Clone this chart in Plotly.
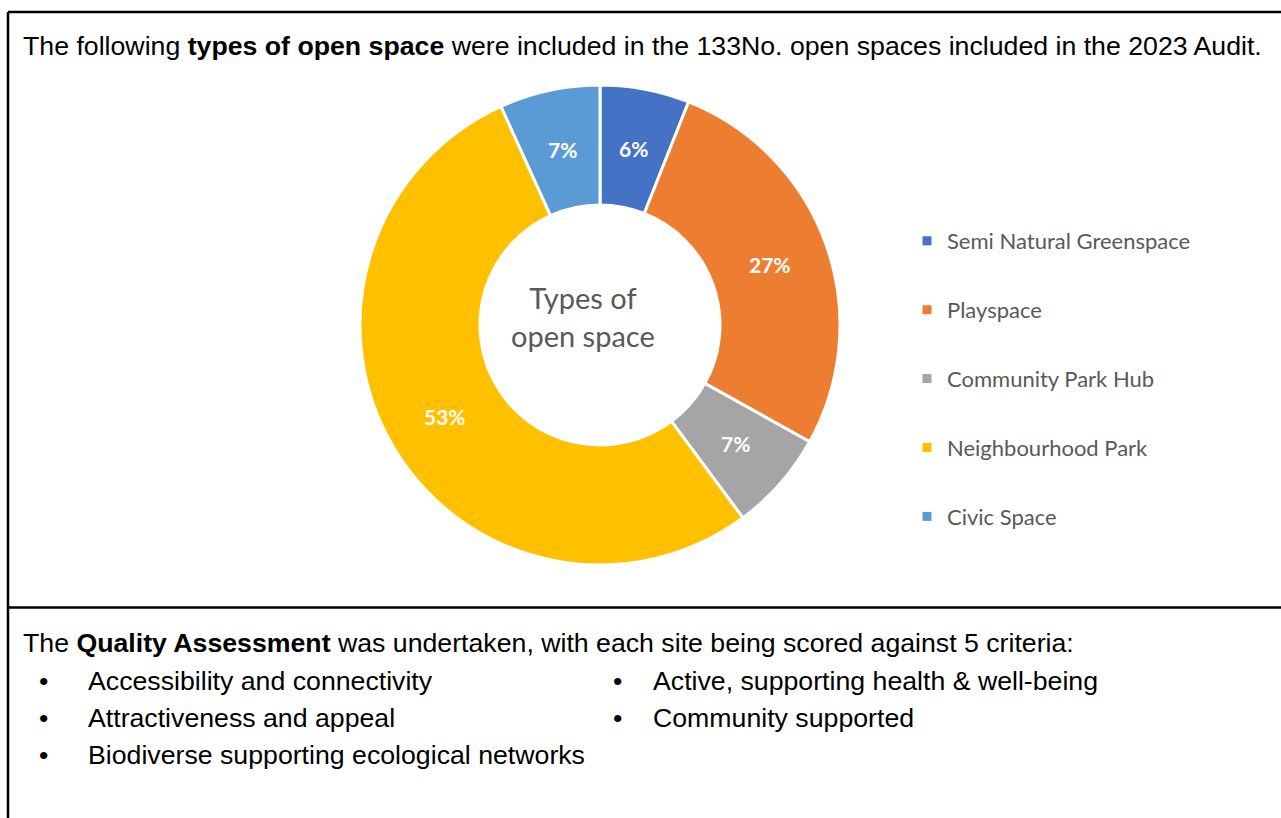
import math
import plotly.graph_objects as go

W, H = 1281, 818

categories = ["Semi Natural Greenspace", "Playspace", "Community Park Hub",
              "Neighbourhood Park", "Civic Space"]
counts = [8, 36, 9, 71, 9]
colors = ["#4472C4", "#ED7D31", "#A5A5A5", "#FFC000", "#5B9BD5"]

title_html = ("The following <b>types of open space</b> were included in the 133No. "
              "open spaces included in the 2023 Audit.")
assess_html = ("The <b>Quality Assessment</b> was undertaken, with each site being "
               "scored against 5 criteria:")
bullets_col1 = ["Accessibility and connectivity", "Attractiveness and appeal",
                "Biodiverse supporting ecological networks"]
bullets_col2 = ["Active, supporting health & well-being", "Community supported"]

def px_x(x):
    return x / W

def px_y(y):
    return 1 - y / H

fig = go.Figure()

cx, cy, r, hole = 600, 325, 240, 0.5
fig.add_trace(go.Pie(
    labels=categories, values=counts, sort=False, direction="clockwise",
    rotation=0, hole=hole,
    marker=dict(colors=colors, line=dict(color="white", width=3)),
    textinfo="none",
    domain=dict(x=[px_x(cx - r), px_x(cx + r)], y=[px_y(cy + r), px_y(cy - r)]),
    showlegend=False, hoverinfo="label+value+percent",
))

for i, (name, col) in enumerate(zip(categories, colors)):
    fig.add_trace(go.Scatter(
        x=[None], y=[None], mode="markers", name=name, legendgroup=f"g{i}",
        marker=dict(symbol="square", size=9, color=col),
        showlegend=True,
    ))

fig.update_xaxes(visible=False)
fig.update_yaxes(visible=False)

body_font = dict(family="Liberation Sans", size=26.7, color="black")
annotations = [
    dict(text=title_html, x=px_x(21), y=px_y(46), xanchor="left", yanchor="middle",
         font=body_font),
    dict(text=assess_html, x=px_x(21), y=px_y(643), xanchor="left", yanchor="middle",
         font=body_font),
    dict(text="Types of<br>open space", x=px_x(583), y=px_y(316), xanchor="center",
         yanchor="middle",
         font=dict(family="Lato", size=29, color="#595959")),
]

# percentage labels placed at the middle of each ring segment
total = sum(counts)
cum = 0
rmid = r * (1 + hole) / 2
for v in counts:
    ang = math.radians((cum + v / 2) / total * 360)
    cum += v
    annotations.append(dict(
        text=f"{round(100 * v / total)}%",
        x=px_x(cx + rmid * math.sin(ang)), y=px_y(cy - rmid * math.cos(ang)),
        xanchor="center", yanchor="middle",
        font=dict(family="Lato", size=21, color="white", weight="bold")))

rows = [681, 718, 755]
for txt, yy in zip(bullets_col1, rows):
    annotations.append(dict(text="•", x=px_x(43), y=px_y(yy), xanchor="center", yanchor="middle",
                            font=body_font))
    annotations.append(dict(text=txt, x=px_x(86), y=px_y(yy), xanchor="left", yanchor="middle",
                            font=body_font))
for txt, yy in zip(bullets_col2, rows):
    annotations.append(dict(text="•", x=px_x(617), y=px_y(yy), xanchor="center", yanchor="middle",
                            font=body_font))
    annotations.append(dict(text=txt, x=px_x(651), y=px_y(yy), xanchor="left", yanchor="middle",
                            font=body_font))
for a in annotations:
    a.update(xref="paper", yref="paper", showarrow=False)

shapes = [
    dict(type="line", x0=px_x(8), x1=1.0, y0=px_y(12), y1=px_y(12)),
    dict(type="line", x0=px_x(8), x1=px_x(8), y0=px_y(12), y1=0),
    dict(type="line", x0=px_x(8), x1=1.0, y0=px_y(607.5), y1=px_y(607.5)),
]
for s in shapes:
    s.update(xref="paper", yref="paper", line=dict(color="black", width=2.5))

fig.update_layout(
    width=W, height=H, margin=dict(l=0, r=0, t=0, b=0),
    paper_bgcolor="white", plot_bgcolor="white",
    annotations=annotations, shapes=shapes,
    legend=dict(x=px_x(907), y=px_y(220), xanchor="left", yanchor="top",
                traceorder="grouped", tracegroupgap=37.3,
                font=dict(family="Lato", size=22, color="#595959"),
                bgcolor="rgba(0,0,0,0)"),
)

fig.write_html("out.html")
